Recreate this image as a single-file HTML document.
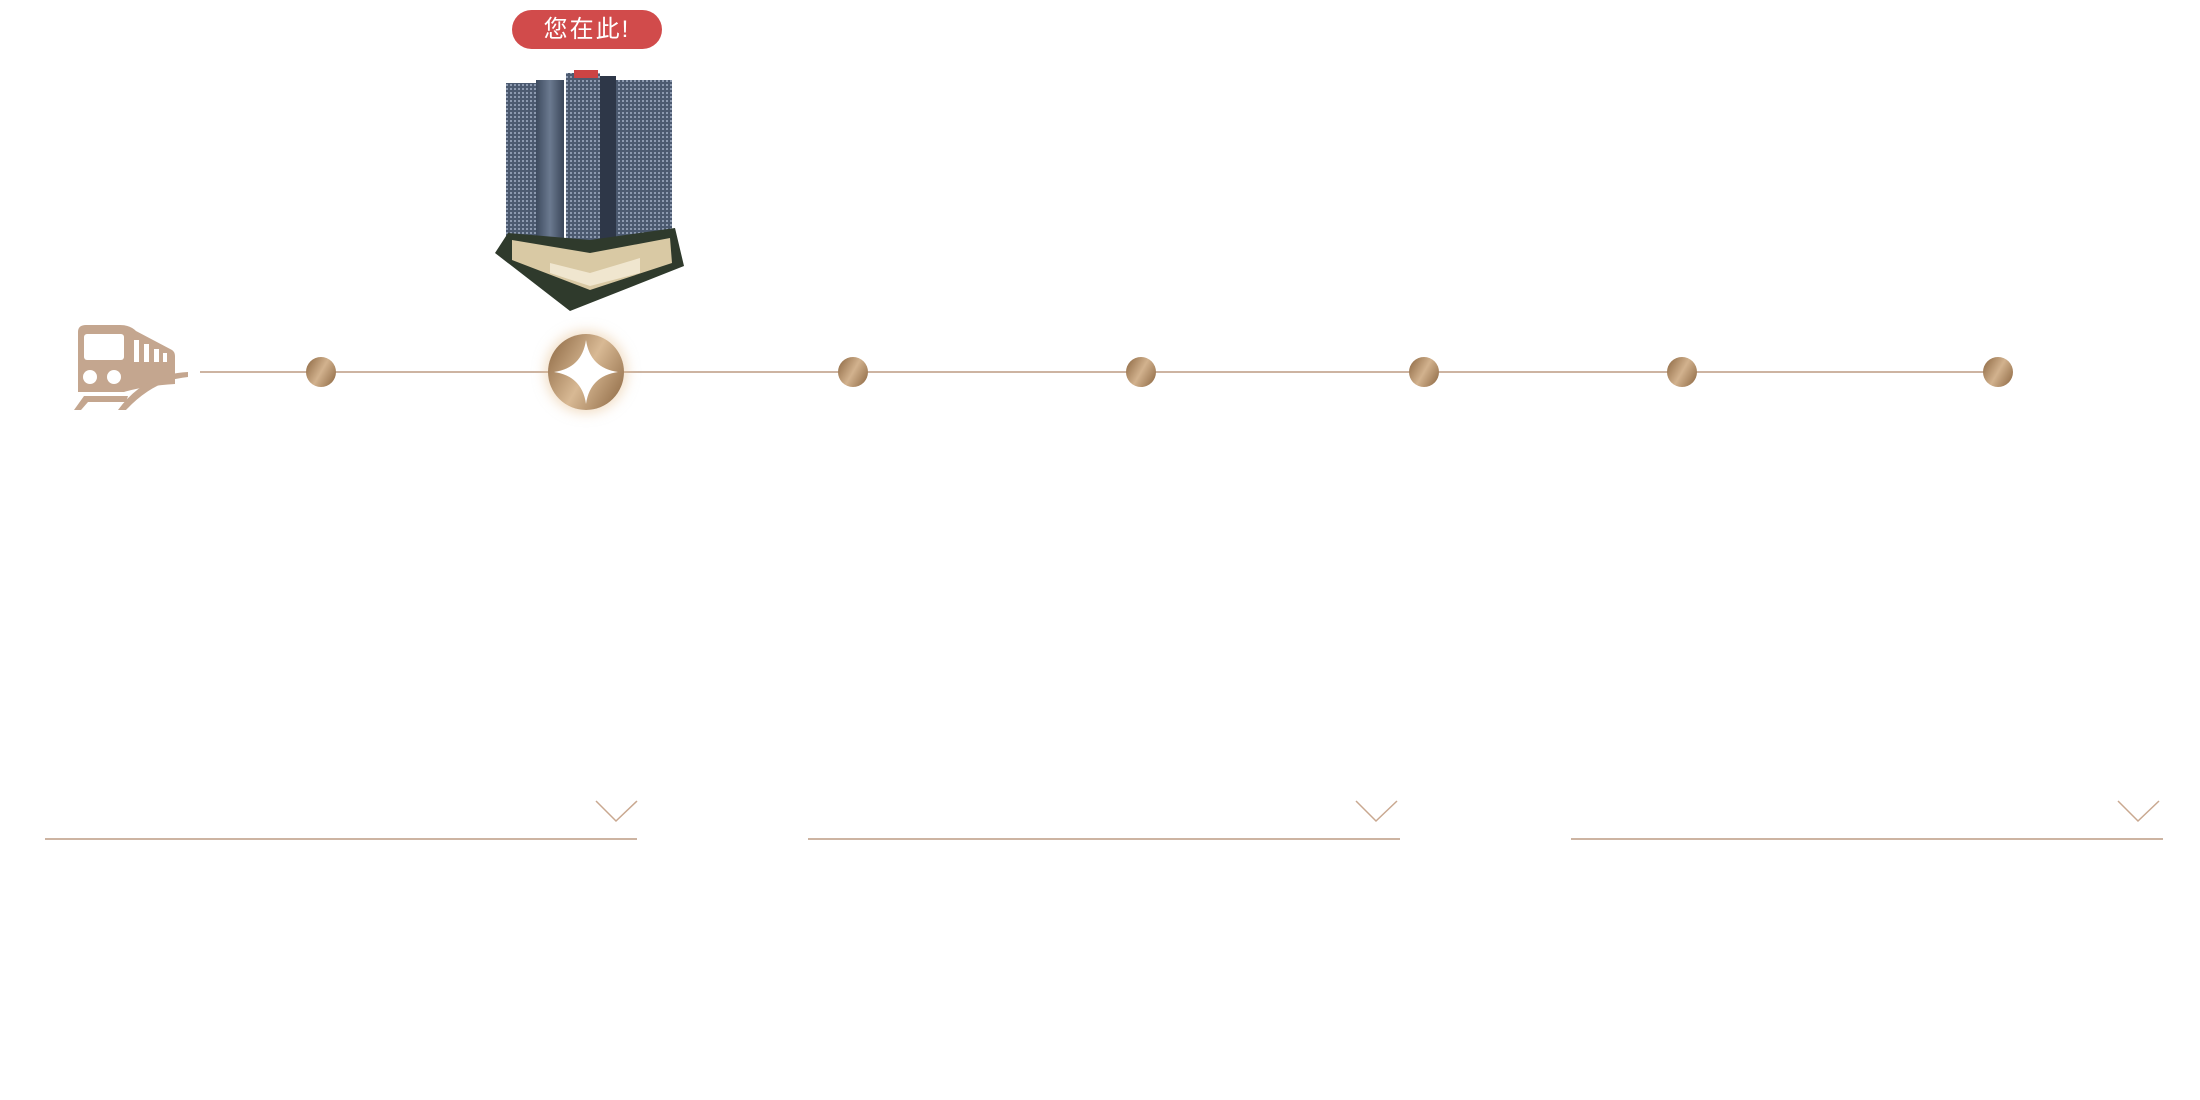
<!DOCTYPE html>
<html><head><meta charset="utf-8"><style>
html,body{margin:0;padding:0;background:#fff;width:2200px;height:1100px;overflow:hidden;position:relative;font-family:"Liberation Sans","Noto Sans CJK SC",sans-serif}
.abs{position:absolute}
.badge{left:512px;top:10px;width:150px;height:39px;border-radius:20px;background:#d14b4b;color:#fff;font-size:24px;line-height:39px;text-align:center;letter-spacing:2px}
.dot{position:absolute;width:30px;height:30px;border-radius:50%;background:linear-gradient(120deg,#8a6540 0%,#d2b28e 50%,#8a6540 100%);top:357px}
.hl{position:absolute;height:2px;background:#cdb4a2;top:838px}
</style></head><body>
<div class="abs badge">您在此!</div>
<svg class="abs" style="left:490px;top:68px" width="200" height="245" viewBox="0 0 200 245">
<defs><linearGradient id="b" x1="0" x2="1"><stop offset="0" stop-color="#3d4a5e"/><stop offset=".5" stop-color="#6b7a90"/><stop offset="1" stop-color="#3a4659"/></linearGradient>
<pattern id="w" width="4" height="4" patternUnits="userSpaceOnUse"><rect width="4" height="4" fill="#4c5a70"/><rect width="2" height="2" fill="#8d9ab0"/></pattern></defs>
<rect x="16" y="15" width="30" height="160" fill="url(#w)"/>
<rect x="46" y="12" width="28" height="165" fill="url(#b)"/>
<rect x="76" y="5" width="34" height="170" fill="url(#w)"/>
<rect x="110" y="8" width="16" height="165" fill="#2e3748"/>
<rect x="126" y="12" width="56" height="160" fill="url(#w)"/>
<rect x="84" y="2" width="24" height="8" fill="#c44"/>
<path d="M5 185 L18 165 L100 172 L185 160 L194 198 L80 243 Z" fill="#2f3a2c"/>
<path d="M22 172 L100 185 L180 170 L182 195 L100 222 L22 192 Z" fill="#d9c9a4"/>
<path d="M60 195 L100 205 L150 190 L150 205 L100 218 L60 205Z" fill="#f0e6cf"/>
</svg>
<div class="abs" style="left:200px;top:371px;width:1790px;height:2px;background:#cdb4a2"></div>
<svg class="abs" style="left:74px;top:322px" width="115" height="90" viewBox="0 0 115 90">
<path d="M4 10 Q4 3 12 3 L46 3 Q56 3 62 9 L98 28 Q101 30 101 34 L101 62 Q70 64 50 70 L4 70 Z" fill="#c4a68f"/>
<rect x="10" y="12" width="40" height="26" rx="3" fill="#fff"/>
<rect x="60" y="18" width="5" height="22" fill="#fff"/><rect x="70" y="22" width="5" height="18" fill="#fff"/><rect x="80" y="27" width="5" height="13" fill="#fff"/><rect x="89" y="31" width="4" height="9" fill="#fff"/>
<circle cx="16" cy="55" r="7" fill="#fff"/><circle cx="40" cy="55" r="7" fill="#fff"/>
<path d="M0 88 L10 74 L54 74 L52 80 L14 80 L7 88Z" fill="#c4a68f"/>
<path d="M44 88 Q70 52 114 50 L114 55 Q80 58 52 88Z" fill="#c4a68f"/>
</svg>
<div class="dot" style="left:306px"></div>
<div class="dot" style="left:838px"></div>
<div class="dot" style="left:1126px"></div>
<div class="dot" style="left:1409px"></div>
<div class="dot" style="left:1667px"></div>
<div class="dot" style="left:1983px"></div>
<div class="abs" style="left:548px;top:334px;width:76px;height:76px;border-radius:50%;box-shadow:0 0 12px 3px rgba(230,190,140,.5);background:linear-gradient(120deg,#8a6540,#d8b994 50%,#8a6540)"></div>
<svg class="abs" style="left:548px;top:334px" width="76" height="76" viewBox="0 0 76 76"><path d="M38 6 Q42 34 70 38 Q42 42 38 70 Q34 42 6 38 Q34 34 38 6Z" fill="#fff"/></svg>
<div class="hl" style="left:45px;width:592px"></div>
<div class="hl" style="left:808px;width:592px"></div>
<div class="hl" style="left:1571px;width:592px"></div>
<svg class="abs" style="left:0;top:795px" width="2200" height="30"><g fill="none" stroke="#c9a890" stroke-width="1.5">
<polyline points="596,6 616,26 637,6"/><polyline points="1356,6 1376,26 1397,6"/><polyline points="2118,6 2138,26 2159,6"/></g></svg>
</body></html>
